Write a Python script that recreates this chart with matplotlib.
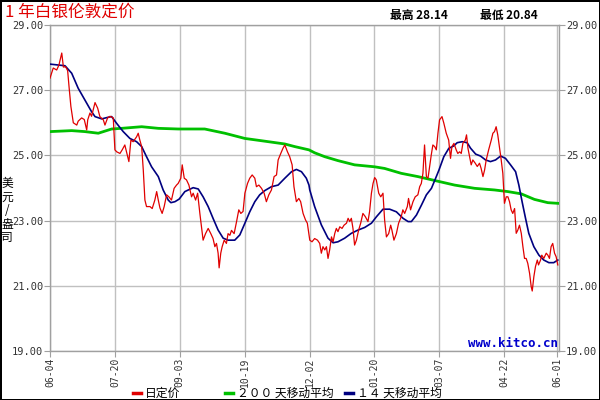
import matplotlib
matplotlib.use("Agg")
import matplotlib.pyplot as plt
from matplotlib.lines import Line2D

plt.rcParams['font.family'] = ['Noto Sans CJK SC', 'DejaVu Sans']

# trading-day index along the year and the tick dates
tick_days = [0, 32, 64, 96, 128, 160, 192, 224, 250]
tick_labels = ['06-04', '07-20', '09-03', '10-19', '12-02', '01-20', '03-07', '04-22', '06-01']
y_ticks = [19, 21, 23, 25, 27, 29]

# daily fix
red_days = [0, 1.6, 3.3, 4.4, 5.8, 6.6, 7.7, 8.7, 9.4, 10.3, 11.5, 13.2, 13.9, 15.6, 16.9, 18.1,
            18.6, 19.7, 20.5, 22.2, 23.5, 24.6, 26.3, 27.1, 28.4, 29.6, 31.2, 32.0, 32.9, 34.5,
            35.6, 36.9, 38.3, 38.9, 39.9, 41.0, 42.7, 43.5, 44.3, 45.2, 46.0, 46.8, 47.6, 49.3,
            50.4, 51.7, 52.6, 53.4, 54.2, 55.3, 56.3, 57.5, 58.6, 59.9, 61.2, 62.4,
            63.2, 64.5, 65.2, 66.2, 67.3, 68.5, 69.8, 70.6, 71.8, 72.8, 73.9, 74.7, 75.5, 76.7,
            78.0, 79.3, 80.4, 81.3, 82.1, 82.9, 83.4, 84.2, 84.9, 85.9, 87.0, 87.8, 88.7, 89.5,
            90.8, 92.0, 93.1, 94.1, 95.2, 96.1, 97.4, 98.5, 99.7, 101.0, 101.8, 103.0, 104.3,
            105.6, 106.7, 107.9, 109.2, 110.5, 111.7, 112.5, 113.8, 114.9, 115.8, 117.1, 118.2,
            119.4, 120.3, 121.5, 122.7, 123.6, 124.8, 126.0,
            126.9, 128.1, 129.2, 130.5, 131.9, 133.0, 133.8, 134.6, 135.5, 136.3, 137.1, 137.9,
            138.8, 139.6, 140.4, 141.2, 142.0, 142.9, 144.0, 145.0, 146.2, 147.0, 147.8, 148.6,
            149.4, 150.2, 151.1, 152.2, 153.2, 154.3, 155.5, 156.8, 157.6, 158.5, 159.3, 160.1,
            160.9, 162.1, 163.1, 164.2, 165.0, 165.9, 167.0, 168.0, 168.6, 169.6, 170.8, 171.9,
            173.2, 174.0, 174.9, 176.2, 176.8, 177.8, 179.0, 180.1, 181.4, 182.3, 183.1, 183.9,
            184.7, 185.6, 186.4, 187.2, 188.0, 188.8, 189.7,
            190.5, 191.3, 192.1, 193.3, 194.2, 195.4, 196.6, 197.5, 198.2, 199.2, 200.3, 201.1,
            202.0, 202.8, 203.6, 204.8, 205.4, 206.1, 206.9, 207.7, 208.5, 209.7, 210.7, 211.8,
            212.6, 213.5, 214.3, 215.1, 216.3, 217.6, 218.4, 219.2, 220.0, 220.8, 221.7, 222.5,
            223.3, 224.1, 225.0, 225.8, 226.6, 227.4, 228.2, 229.1, 229.9, 230.7, 231.5, 232.4,
            233.2, 234.0, 234.8, 235.6, 236.5, 237.3, 237.8, 238.6, 239.4, 240.3, 240.9, 241.9,
            242.5, 243.5, 244.7, 245.5, 246.3, 247.1, 247.9, 248.8, 249.6, 250.4]
red_vals = [27.37, 27.68, 27.62, 27.77, 28.14, 27.71, 27.72, 27.60, 27.10, 26.50, 26.00, 25.93,
            26.05, 26.15, 26.10, 25.78, 26.09, 26.30, 26.20, 26.62, 26.45, 26.19, 26.09, 25.93,
            26.15, 26.20, 26.15, 25.17, 25.11, 25.06, 25.17, 25.32, 24.96, 24.81, 25.47, 25.42,
            25.57, 25.68, 25.47, 25.27, 24.55, 23.63, 23.43, 23.43, 23.37, 23.63, 23.89, 23.63,
            23.39, 23.22, 23.43, 23.79, 23.73, 23.63, 23.99, 24.09,
            24.14, 24.30, 24.71, 24.30, 24.25, 24.09, 23.73, 23.84, 23.63, 23.84, 23.22, 22.81,
            22.40, 22.60, 22.76, 22.60, 22.45, 22.20, 22.30, 22.00, 21.55, 22.00, 22.20, 22.40,
            22.30, 22.60, 22.55, 22.70, 22.60, 22.97, 23.33, 23.22, 23.28, 23.84, 24.14, 24.30,
            24.40, 24.30, 24.04, 24.09, 23.99, 23.84, 23.58, 23.79, 23.94, 24.35, 24.40, 24.86,
            25.06, 25.22, 25.32, 25.11, 24.96, 24.71, 24.04, 23.58, 23.68, 23.58, 23.22, 23.02,
            22.92, 22.40, 22.35, 22.45, 22.40, 22.30, 22.00, 22.20, 22.10, 22.20, 21.84, 22.10,
            22.50, 22.35, 22.60, 22.76, 22.66, 22.81, 22.76, 22.86, 22.92, 23.07, 22.97, 23.07,
            22.76, 22.25, 22.40, 22.71, 22.92, 23.22, 23.12, 22.97, 23.28, 23.84, 24.14, 24.32,
            24.25, 23.84, 23.73, 23.84, 23.02, 22.50, 22.60, 22.86, 22.71, 22.40, 22.60, 22.92,
            23.12, 23.33, 23.22, 23.43, 23.68, 23.33, 23.58, 23.73, 23.79, 24.04, 24.14, 24.45,
            25.32, 24.35, 24.30, 24.66, 25.01, 25.32, 25.27,
            25.17, 25.68, 26.09, 26.19, 25.99, 25.68, 25.47, 24.91, 25.27, 25.37, 25.17, 25.06,
            25.11, 25.06, 25.37, 25.47, 25.63, 25.22, 24.96, 24.71, 24.86, 24.76, 24.66, 24.76,
            24.60, 24.35, 24.55, 24.86, 25.17, 25.47, 25.68, 25.73, 25.88, 25.63, 25.22, 24.86,
            24.45, 23.53, 23.73, 23.73, 23.58, 23.33, 23.22, 23.37, 22.61, 22.71, 22.86, 22.61,
            22.20, 21.84, 21.84, 21.69, 21.38, 20.97, 20.84, 21.28, 21.59, 21.79, 21.64, 21.79,
            21.94, 21.84, 22.00, 21.94, 21.84, 22.20, 22.30, 22.00, 21.89, 21.64]

# 14 day moving average
ma14_days = [0, 7.4, 10.7, 13.9, 17.2, 20.5, 22.2, 25.5, 28.7, 30.4, 32.9, 36.1, 39.4, 42.7,
             45.2, 47.6, 50.1, 53.4, 55.8, 58.3, 59.6, 61.6, 63.7, 66.5, 70.6, 73.1, 75.5, 78.0,
             80.4, 82.9, 85.4, 87.8, 91.1, 93.6, 96.1, 98.5, 101.0, 103.4, 105.9, 109.2, 112.5,
             115.8, 119.1, 121.5, 124.0, 126.4, 127.7, 128.1, 130.5, 133.8, 137.1, 139.6, 142.0,
             145.3, 148.6, 151.9, 155.2, 158.5, 161.0, 164.2, 167.5, 170.8, 174.1, 176.6, 178.2,
             180.7, 183.2, 185.6, 188.1, 190.5, 191.8, 194.2, 196.7, 199.1, 200.8, 203.3, 205.7,
             207.4, 209.9, 212.3, 214.8, 217.2, 219.7, 222.2, 224.6, 227.1, 229.6, 231.2, 232.8,
             234.5, 236.1, 238.6, 241.1, 243.5, 246.0, 248.4, 250.4]
ma14_vals = [27.80, 27.75, 27.52, 27.06, 26.70, 26.34, 26.19, 26.12, 26.17, 26.19, 25.98, 25.73,
             25.52, 25.42, 25.27, 24.96, 24.65, 24.35, 23.94, 23.63, 23.55, 23.58, 23.66, 23.89,
             24.01, 23.97, 23.73, 23.43, 23.07, 22.71, 22.46, 22.40, 22.40, 22.56, 22.92, 23.27,
             23.58, 23.79, 23.92, 24.04, 24.09, 24.30, 24.50, 24.57, 24.50, 24.30, 24.09, 23.94,
             23.43, 22.87, 22.46, 22.32, 22.35, 22.46, 22.61, 22.71, 22.79, 22.92, 23.12, 23.35,
             23.35, 23.27, 23.07, 22.97, 22.97, 23.17, 23.48, 23.79, 23.99, 24.35, 24.55, 24.96,
             25.22, 25.29, 25.39, 25.42, 25.39, 25.22, 25.04, 24.98, 24.86, 24.81, 24.86, 24.98,
             24.91, 24.71, 24.50, 24.09, 23.58, 23.07, 22.61, 22.20, 21.94, 21.79, 21.71, 21.71,
             21.79]

# 200 day moving average
ma200_days = [0, 10.7, 17.2, 23.8, 30.4, 35.3, 45.2, 53.4, 63.2, 76.3, 86.2, 96.1, 104.3, 115.8,
              120.7, 127.7, 130.5, 135.5, 142.0, 150.2, 160.1, 165.0, 173.2, 181.4, 191.8, 199.5,
              209.4, 219.2, 225.8, 232.4, 238.9, 245.5, 250.4]
ma200_vals = [25.73, 25.76, 25.73, 25.68, 25.81, 25.83, 25.88, 25.83, 25.81, 25.81, 25.68, 25.52,
              25.45, 25.35, 25.27, 25.17, 25.08, 24.96, 24.84, 24.71, 24.65, 24.60, 24.45, 24.35,
              24.20, 24.09, 23.99, 23.94, 23.89, 23.82, 23.65, 23.55, 23.53]

title_text = '1 年白银伦敦定价'
high_text = '最高 28.14'
low_text = '最低 20.84'
unit_text = '美\n元\n/\n盎\n司'
legend_items = [('日定价', '#e00000'), ('２００ 天移动平均', '#00c000'), ('１４ 天移动平均', '#000080')]

fig = plt.figure(figsize=(6, 4), dpi=100)
fig.patch.set_facecolor('white')
fig.patch.set_edgecolor('black')
fig.patch.set_linewidth(2)

ax = fig.add_axes([50 / 600, 49 / 400, 509 / 600, 326 / 400])
ax.plot(ma200_days, ma200_vals, color='#00c000', lw=2.0, zorder=3)
ax.plot(ma14_days, ma14_vals, color='#000080', lw=1.2, zorder=4)
ax.plot(red_days, red_vals, color='#e00000', lw=0.9, zorder=5)

ax.set_xlim(0, 251)
ax.set_ylim(19, 29)
ax.set_xticks(tick_days)
ax.set_xticklabels(tick_labels, rotation=90, fontsize=7, color='#333333', family='DejaVu Sans Mono')
ax.set_yticks(y_ticks)
ax.set_yticklabels(['%.2f' % v for v in y_ticks], fontsize=7.5, color='#333333', family='DejaVu Sans Mono')
ax.tick_params(axis='both', length=4, width=0.8, color='#a0a0a0', pad=1,
               right=True, labelright=True)
ax.grid(True, color='#c0c0c0', lw=1)
for s in ax.spines.values():
    s.set_color('#a0a0a0')
    s.set_linewidth(1)

ax.text(0.998, 0.003, 'www.kitco.cn', transform=ax.transAxes, ha='right', va='bottom',
        color='#0000cc', fontsize=9, fontweight='bold', family='DejaVu Sans Mono', zorder=6)

fig.text(5 / 600, 1 - 12 / 400, title_text, color='#e00000', fontsize=12, va='center', ha='left')
fig.text(390 / 600, 1 - 15 / 400, high_text, color='black', fontsize=8.5, va='center', ha='left',
         fontweight='bold')
fig.text(480 / 600, 1 - 15 / 400, low_text, color='black', fontsize=8.5, va='center', ha='left',
         fontweight='bold')
fig.text(7 / 600, 1 - 211 / 400, unit_text, fontsize=8.5, va='center', ha='center', linespacing=1.05)

leg_x = [133, 225, 345]
for (label, col), x0 in zip(legend_items, leg_x):
    fig.add_artist(Line2D([x0 / 600, (x0 + 8) / 600], [1 - 393 / 400] * 2, color=col, lw=2.5))
    fig.text((x0 + 12) / 600, 1 - 393.5 / 400, label, fontsize=8.5, va='center', ha='left')

fig.savefig('out.png', dpi=100)
